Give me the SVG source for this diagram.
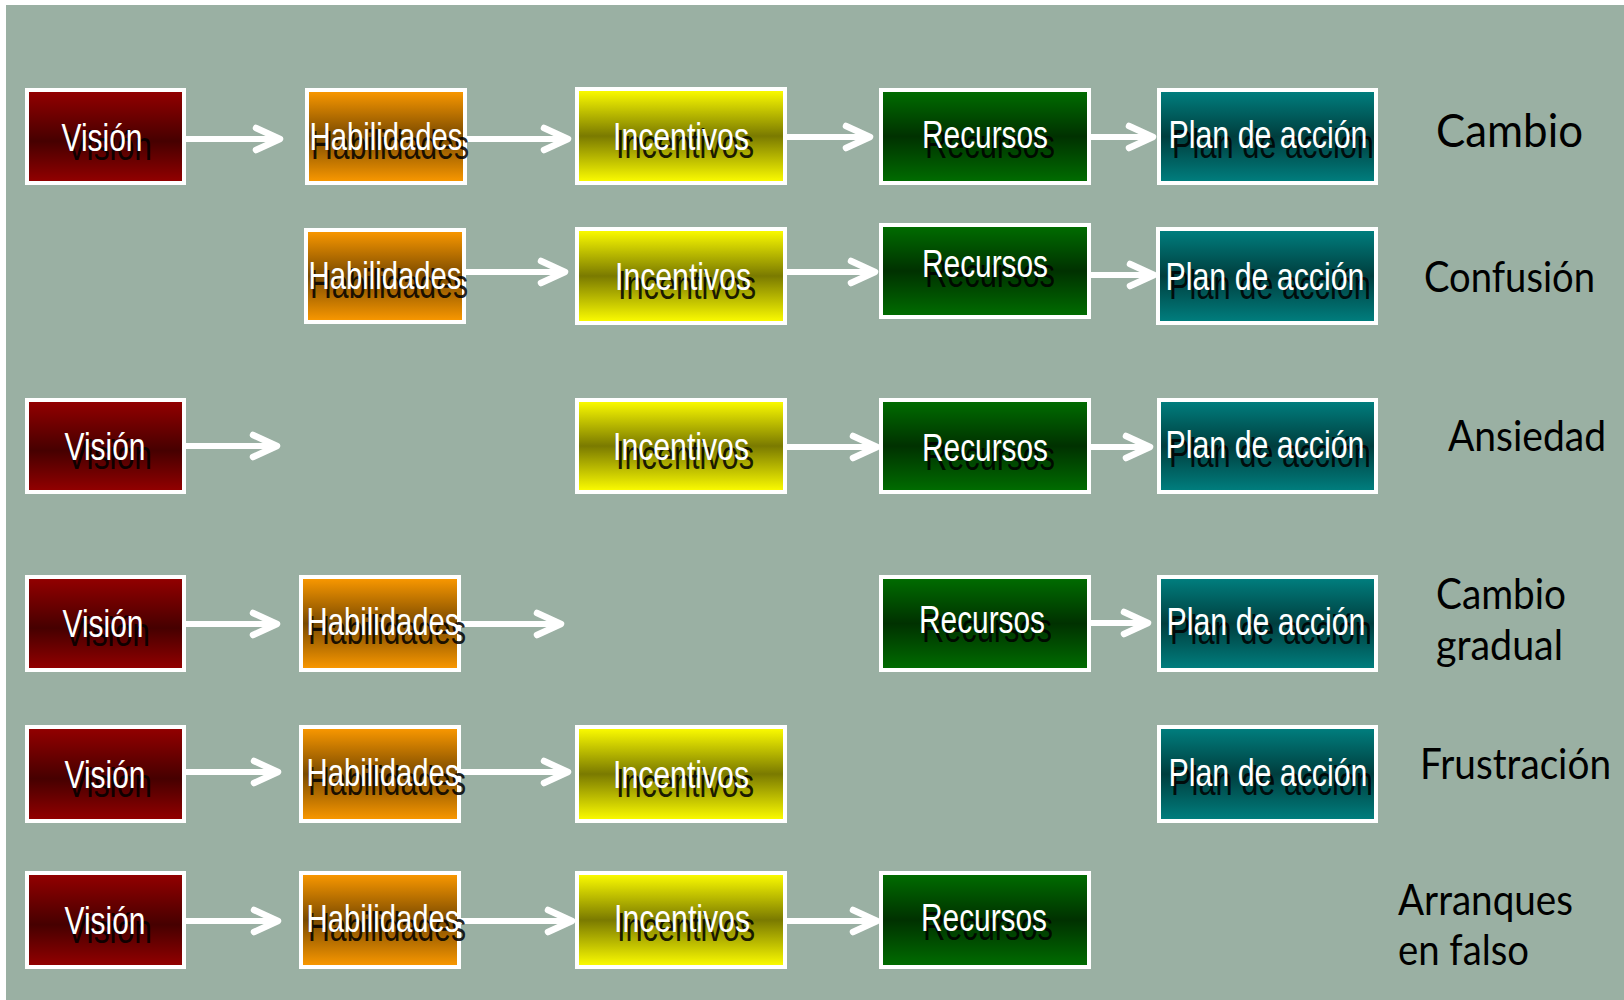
<svg xmlns="http://www.w3.org/2000/svg" width="1624" height="1000" viewBox="0 0 1624 1000">
<defs>
<linearGradient id="gV" x1="0" y1="0" x2="0" y2="1"><stop offset="0" stop-color="#950000"/><stop offset="0.55" stop-color="#460000"/><stop offset="1" stop-color="#950000"/></linearGradient>
<linearGradient id="gH" x1="0" y1="0" x2="0" y2="1"><stop offset="0" stop-color="#FD9A00"/><stop offset="0.5" stop-color="#7A4A00"/><stop offset="1" stop-color="#FD9A00"/></linearGradient>
<linearGradient id="gI" x1="0" y1="0" x2="0" y2="1"><stop offset="0" stop-color="#FFFF00"/><stop offset="0.5" stop-color="#7A7A00"/><stop offset="1" stop-color="#FFFF00"/></linearGradient>
<linearGradient id="gR" x1="0" y1="0" x2="0" y2="1"><stop offset="0" stop-color="#006E00"/><stop offset="0.5" stop-color="#003100"/><stop offset="1" stop-color="#006E00"/></linearGradient>
<linearGradient id="gP" x1="0" y1="0" x2="0" y2="1"><stop offset="0" stop-color="#008080"/><stop offset="0.5" stop-color="#003E3E"/><stop offset="1" stop-color="#008080"/></linearGradient>
<marker id="ah" markerUnits="userSpaceOnUse" viewBox="-32 -16 40 32" markerWidth="40" markerHeight="32" refX="0" refY="0" orient="auto">
<path d="M -24 -11 L 0 0 L -24 11" fill="none" stroke="#FFFFFF" stroke-width="6.5" stroke-linecap="round" stroke-linejoin="round"/>
</marker>
</defs>
<style>
.box{stroke:#FFFFFF;stroke-width:4}
.t{font-family:"Liberation Sans",Arial,sans-serif;font-size:38px;text-anchor:middle;fill:#FFFFFF}
.s{font-family:"Liberation Sans",Arial,sans-serif;font-size:40px;text-anchor:middle;fill:#000000;fill-opacity:0.85}
.lab{font-family:Lato,"Open Sans",sans-serif;font-size:42px;fill:#000000}
.arr{stroke:#FFFFFF;stroke-width:6;fill:none;marker-end:url(#ah)}
</style>
<rect x="0" y="0" width="1624" height="1000" fill="#FFFFFF"/>
<rect x="6" y="5" width="1618" height="995" fill="#9AB0A3"/>

<g id="connectors">
<line class="arr" x1="186" y1="139" x2="280" y2="139"/>
<line class="arr" x1="467" y1="139" x2="568" y2="139"/>
<line class="arr" x1="787" y1="137" x2="870" y2="137"/>
<line class="arr" x1="1091" y1="137" x2="1153" y2="137"/>

<line class="arr" x1="466" y1="272" x2="565" y2="272"/>
<line class="arr" x1="787" y1="272" x2="875" y2="272"/>
<line class="arr" x1="1091" y1="275" x2="1154" y2="275"/>

<line class="arr" x1="186" y1="446" x2="277" y2="446"/>
<line class="arr" x1="787" y1="447" x2="877" y2="447"/>
<line class="arr" x1="1091" y1="447" x2="1150" y2="447"/>

<line class="arr" x1="186" y1="624" x2="277" y2="624"/>
<line class="arr" x1="461" y1="624" x2="561" y2="624"/>
<line class="arr" x1="1091" y1="623" x2="1148" y2="623"/>

<line class="arr" x1="186" y1="772" x2="278" y2="772"/>
<line class="arr" x1="461" y1="772" x2="568" y2="772"/>

<line class="arr" x1="186" y1="921" x2="278" y2="921"/>
<line class="arr" x1="461" y1="921" x2="572" y2="921"/>
<line class="arr" x1="787" y1="921" x2="877" y2="921"/>
</g>

<!-- Row 1 -->
<g id="r1-vision"><rect class="box" x="27" y="90" width="157" height="93" fill="url(#gV)"/><text class="s" x="109" y="160" textLength="86" lengthAdjust="spacingAndGlyphs">Visión</text><text class="t" x="102" y="151" textLength="81" lengthAdjust="spacingAndGlyphs">Visión</text></g>
<g id="r1-hab"><rect class="box" x="307" y="90" width="158" height="93" fill="url(#gH)"/><text class="s" x="390" y="159" textLength="158" lengthAdjust="spacingAndGlyphs">Habilidades</text><text class="t" x="386" y="150" textLength="153" lengthAdjust="spacingAndGlyphs">Habilidades</text></g>
<g id="r1-inc"><rect class="box" x="577" y="89" width="208" height="94" fill="url(#gI)"/><text class="s" x="685" y="158" textLength="138" lengthAdjust="spacingAndGlyphs">Incentivos</text><text class="t" x="681" y="150" textLength="136" lengthAdjust="spacingAndGlyphs">Incentivos</text></g>
<g id="r1-rec"><rect class="box" x="881" y="90" width="208" height="93" fill="url(#gR)"/><text class="s" x="990" y="158" textLength="130" lengthAdjust="spacingAndGlyphs">Recursos</text><text class="t" x="985" y="148" textLength="126" lengthAdjust="spacingAndGlyphs">Recursos</text></g>
<g id="r1-plan"><rect class="box" x="1159" y="90" width="217" height="93" fill="url(#gP)"/><text class="s" x="1273" y="158" textLength="202" lengthAdjust="spacingAndGlyphs">Plan de acción</text><text class="t" x="1268" y="148" textLength="199" lengthAdjust="spacingAndGlyphs">Plan de acción</text></g>
<text class="lab" x="1436" y="147" textLength="147" lengthAdjust="spacingAndGlyphs" style="font-size:46px">Cambio</text>

<!-- Row 2 -->
<g id="r2-hab"><rect class="box" x="306" y="230" width="158" height="92" fill="url(#gH)"/><text class="s" x="389" y="298" textLength="158" lengthAdjust="spacingAndGlyphs">Habilidades</text><text class="t" x="385" y="289" textLength="153" lengthAdjust="spacingAndGlyphs">Habilidades</text></g>
<g id="r2-inc"><rect class="box" x="577" y="229" width="208" height="94" fill="url(#gI)"/><text class="s" x="687" y="299" textLength="138" lengthAdjust="spacingAndGlyphs">Incentivos</text><text class="t" x="683" y="290" textLength="136" lengthAdjust="spacingAndGlyphs">Incentivos</text></g>
<g id="r2-rec"><rect class="box" x="881" y="225" width="208" height="92" fill="url(#gR)"/><text class="s" x="990" y="287" textLength="130" lengthAdjust="spacingAndGlyphs">Recursos</text><text class="t" x="985" y="277" textLength="126" lengthAdjust="spacingAndGlyphs">Recursos</text></g>
<g id="r2-plan"><rect class="box" x="1158" y="229" width="218" height="94" fill="url(#gP)"/><text class="s" x="1270" y="299" textLength="202" lengthAdjust="spacingAndGlyphs">Plan de acción</text><text class="t" x="1265" y="290" textLength="199" lengthAdjust="spacingAndGlyphs">Plan de acción</text></g>
<text class="lab" x="1424" y="292" textLength="171" lengthAdjust="spacingAndGlyphs">Confusión</text>

<!-- Row 3 -->
<g id="r3-vision"><rect class="box" x="27" y="400" width="157" height="92" fill="url(#gV)"/><text class="s" x="109" y="469" textLength="86" lengthAdjust="spacingAndGlyphs">Visión</text><text class="t" x="105" y="460" textLength="81" lengthAdjust="spacingAndGlyphs">Visión</text></g>
<g id="r3-inc"><rect class="box" x="577" y="400" width="208" height="92" fill="url(#gI)"/><text class="s" x="685" y="469" textLength="138" lengthAdjust="spacingAndGlyphs">Incentivos</text><text class="t" x="681" y="460" textLength="136" lengthAdjust="spacingAndGlyphs">Incentivos</text></g>
<g id="r3-rec"><rect class="box" x="881" y="400" width="208" height="92" fill="url(#gR)"/><text class="s" x="990" y="470" textLength="130" lengthAdjust="spacingAndGlyphs">Recursos</text><text class="t" x="985" y="461" textLength="126" lengthAdjust="spacingAndGlyphs">Recursos</text></g>
<g id="r3-plan"><rect class="box" x="1159" y="400" width="217" height="92" fill="url(#gP)"/><text class="s" x="1270" y="467" textLength="202" lengthAdjust="spacingAndGlyphs">Plan de acción</text><text class="t" x="1265" y="458" textLength="199" lengthAdjust="spacingAndGlyphs">Plan de acción</text></g>
<text class="lab" x="1448" y="451" textLength="158" lengthAdjust="spacingAndGlyphs">Ansiedad</text>

<!-- Row 4 -->
<g id="r4-vision"><rect class="box" x="27" y="577" width="157" height="93" fill="url(#gV)"/><text class="s" x="107" y="646" textLength="86" lengthAdjust="spacingAndGlyphs">Visión</text><text class="t" x="103" y="637" textLength="81" lengthAdjust="spacingAndGlyphs">Visión</text></g>
<g id="r4-hab"><rect class="box" x="301" y="577" width="158" height="93" fill="url(#gH)"/><text class="s" x="387" y="644" textLength="158" lengthAdjust="spacingAndGlyphs">Habilidades</text><text class="t" x="383" y="635" textLength="153" lengthAdjust="spacingAndGlyphs">Habilidades</text></g>
<g id="r4-rec"><rect class="box" x="881" y="577" width="208" height="93" fill="url(#gR)"/><text class="s" x="987" y="642" textLength="130" lengthAdjust="spacingAndGlyphs">Recursos</text><text class="t" x="982" y="633" textLength="126" lengthAdjust="spacingAndGlyphs">Recursos</text></g>
<g id="r4-plan"><rect class="box" x="1159" y="577" width="217" height="93" fill="url(#gP)"/><text class="s" x="1271" y="644" textLength="202" lengthAdjust="spacingAndGlyphs">Plan de acción</text><text class="t" x="1266" y="635" textLength="199" lengthAdjust="spacingAndGlyphs">Plan de acción</text></g>
<text class="lab" x="1436" y="609" textLength="130" lengthAdjust="spacingAndGlyphs">Cambio</text>
<text class="lab" x="1436" y="660" textLength="127" lengthAdjust="spacingAndGlyphs">gradual</text>

<!-- Row 5 -->
<g id="r5-vision"><rect class="box" x="27" y="727" width="157" height="94" fill="url(#gV)"/><text class="s" x="109" y="797" textLength="86" lengthAdjust="spacingAndGlyphs">Visión</text><text class="t" x="105" y="788" textLength="81" lengthAdjust="spacingAndGlyphs">Visión</text></g>
<g id="r5-hab"><rect class="box" x="301" y="727" width="158" height="94" fill="url(#gH)"/><text class="s" x="387" y="795" textLength="158" lengthAdjust="spacingAndGlyphs">Habilidades</text><text class="t" x="383" y="786" textLength="153" lengthAdjust="spacingAndGlyphs">Habilidades</text></g>
<g id="r5-inc"><rect class="box" x="577" y="727" width="208" height="94" fill="url(#gI)"/><text class="s" x="685" y="797" textLength="138" lengthAdjust="spacingAndGlyphs">Incentivos</text><text class="t" x="681" y="788" textLength="136" lengthAdjust="spacingAndGlyphs">Incentivos</text></g>
<g id="r5-plan"><rect class="box" x="1159" y="727" width="217" height="94" fill="url(#gP)"/><text class="s" x="1272" y="795" textLength="202" lengthAdjust="spacingAndGlyphs">Plan de acción</text><text class="t" x="1268" y="786" textLength="199" lengthAdjust="spacingAndGlyphs">Plan de acción</text></g>
<text class="lab" x="1420" y="779" textLength="191" lengthAdjust="spacingAndGlyphs">Frustración</text>

<!-- Row 6 -->
<g id="r6-vision"><rect class="box" x="27" y="873" width="157" height="94" fill="url(#gV)"/><text class="s" x="109" y="943" textLength="86" lengthAdjust="spacingAndGlyphs">Visión</text><text class="t" x="105" y="934" textLength="81" lengthAdjust="spacingAndGlyphs">Visión</text></g>
<g id="r6-hab"><rect class="box" x="301" y="873" width="158" height="94" fill="url(#gH)"/><text class="s" x="387" y="941" textLength="158" lengthAdjust="spacingAndGlyphs">Habilidades</text><text class="t" x="383" y="932" textLength="153" lengthAdjust="spacingAndGlyphs">Habilidades</text></g>
<g id="r6-inc"><rect class="box" x="577" y="873" width="208" height="94" fill="url(#gI)"/><text class="s" x="686" y="941" textLength="138" lengthAdjust="spacingAndGlyphs">Incentivos</text><text class="t" x="682" y="932" textLength="136" lengthAdjust="spacingAndGlyphs">Incentivos</text></g>
<g id="r6-rec"><rect class="box" x="881" y="873" width="208" height="94" fill="url(#gR)"/><text class="s" x="988" y="940" textLength="130" lengthAdjust="spacingAndGlyphs">Recursos</text><text class="t" x="984" y="931" textLength="126" lengthAdjust="spacingAndGlyphs">Recursos</text></g>
<text class="lab" x="1398" y="915" textLength="175" lengthAdjust="spacingAndGlyphs">Arranques</text>
<text class="lab" x="1398" y="965" textLength="131" lengthAdjust="spacingAndGlyphs">en falso</text>
</svg>
